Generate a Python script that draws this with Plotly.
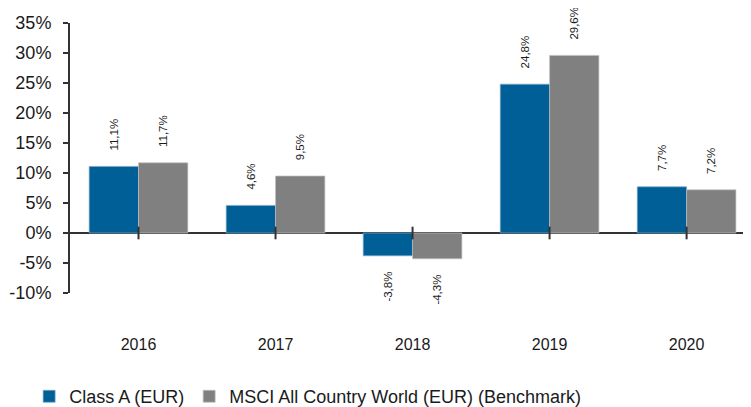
import plotly.graph_objects as go

years = ["2016", "2017", "2018", "2019", "2020"]
class_a = [11.1, 4.6, -3.8, 24.8, 7.7]
benchmark = [11.7, 9.5, -4.3, 29.6, 7.2]
series_names = ["Class A (EUR)", "MSCI All Country World (EUR) (Benchmark)"]
y_ticks = [-10, -5, 0, 5, 10, 15, 20, 25, 30, 35]

BLUE = "#005f96"
GRAY = "#808080"
TXT = "#1a1a1a"
AX = "#333333"
FONT = "Liberation Sans, Arial, sans-serif"
NB = "\u00a0"


def fmt(v):
    s = f"{v:.1f}".replace(".", ",") + "%"
    # padding so the rotated label sits a little away from the bar end
    return NB * 4 + s if v >= 0 else s + NB * 4


fig = go.Figure()
for vals, name, color, edge in ((class_a, series_names[0], BLUE, "#7fa9c9"),
                                (benchmark, series_names[1], GRAY, "#c0c0c0")):
    fig.add_trace(go.Bar(
        x=years, y=vals, name=name,
        marker=dict(color=color, line=dict(color=edge, width=0.7)),
        text=[fmt(v) for v in vals], textposition="outside", textangle=-90,
        textfont=dict(size=11.5, color=TXT, family=FONT),
        constraintext="none", cliponaxis=False,
    ))

# small category tick marks on the zero line
fig.add_trace(go.Scatter(
    x=years, y=[0] * len(years), mode="markers", showlegend=False, hoverinfo="skip",
    marker=dict(symbol="line-ns", size=9, line=dict(color=AX, width=2), color=AX),
))

W, H = 743, 399
L, R, T, B = 62, 0, 15, 114

fig.update_layout(
    width=W, height=H,
    margin=dict(l=L, r=R, t=T, b=B, autoexpand=False),
    paper_bgcolor="white", plot_bgcolor="white",
    barmode="group", bargap=0.28, bargroupgap=0,
    font=dict(family=FONT, color=TXT),
    showlegend=True,
    legend=dict(orientation="h", x=-0.06, xanchor="left", y=-0.315, yanchor="top",
                font=dict(size=18, color=TXT, family=FONT),
                itemwidth=30, bgcolor="rgba(0,0,0,0)"),
)
fig.update_xaxes(type="category", range=[-0.5, len(years) - 0.53], showline=False, ticks="",
                 showgrid=False, zeroline=False,
                 tickfont=dict(size=16, color=TXT, family=FONT),
                 ticklabelstandoff=40)
fig.update_yaxes(range=[-10, 35], tickvals=y_ticks,
                 ticktext=[f"{t}%" for t in y_ticks],
                 showgrid=False, showline=True, linecolor=AX, linewidth=2,
                 ticks="outside", ticklen=5, tickcolor=AX, tickwidth=2,
                 ticklabelstandoff=8,
                 zeroline=True, zerolinecolor=AX, zerolinewidth=2,
                 tickfont=dict(size=18, color=TXT, family=FONT))

fig.write_html("out.html")
